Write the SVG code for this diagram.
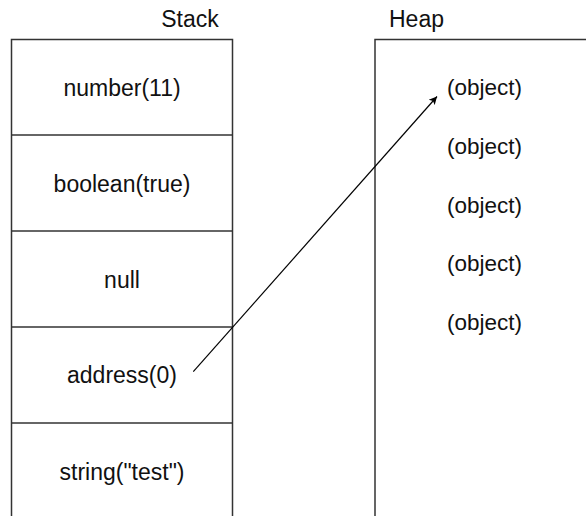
<svg xmlns="http://www.w3.org/2000/svg" width="586" height="516" viewBox="0 0 586 516">
<style>
text{font-family:"Liberation Sans",Arial,sans-serif;font-size:23px;fill:#111}
.c{text-anchor:middle}
.o{font-size:22.5px}
.box{fill:none;stroke:#333;stroke-width:1.5}
.arrow{stroke:#000;stroke-width:1.2;fill:none}
</style>
<defs>
<marker id="ah" viewBox="0 0 10 10" refX="10" refY="5" markerWidth="10" markerHeight="8" markerUnits="userSpaceOnUse" orient="auto">
<path d="M0,0 L10,5 L0,10 L2.5,5 Z" fill="#000"/>
</marker>
</defs>
<rect width="586" height="516" fill="#fff"/>
<g id="stack-label"><text class="c" x="190" y="27">Stack</text></g>
<g id="heap-label"><text x="389" y="27">Heap</text></g>
<g id="stack">
<path class="box" d="M11.5,516 V39.5 H232.5 V516"/>
</g>
<g id="stack-number"><path class="box" d="M11.5,135 H232.5"/><text class="c" x="122" y="95.5">number(11)</text></g>
<g id="stack-boolean"><path class="box" d="M11.5,231 H232.5"/><text class="c" x="122" y="191.5">boolean(true)</text></g>
<g id="stack-null"><path class="box" d="M11.5,327 H232.5"/><text class="c" x="122" y="287.5">null</text></g>
<g id="stack-address"><path class="box" d="M11.5,423 H232.5"/><text class="c" x="122" y="383">address(0)</text></g>
<g id="stack-string"><text class="c" x="122" y="479.5">string("test")</text></g>
<g id="heap">
<path class="box" d="M375,516 V39.5 H590"/>
</g>
<g id="heap-object-1"><text class="o" x="447" y="95">(object)</text></g>
<g id="heap-object-2"><text class="o" x="447" y="154">(object)</text></g>
<g id="heap-object-3"><text class="o" x="447" y="213">(object)</text></g>
<g id="heap-object-4"><text class="o" x="447" y="271">(object)</text></g>
<g id="heap-object-5"><text class="o" x="447" y="330">(object)</text></g>
<g id="connectors">
<line class="arrow" x1="193.3" y1="371.7" x2="437" y2="96.5" marker-end="url(#ah)"/>
</g>
</svg>
